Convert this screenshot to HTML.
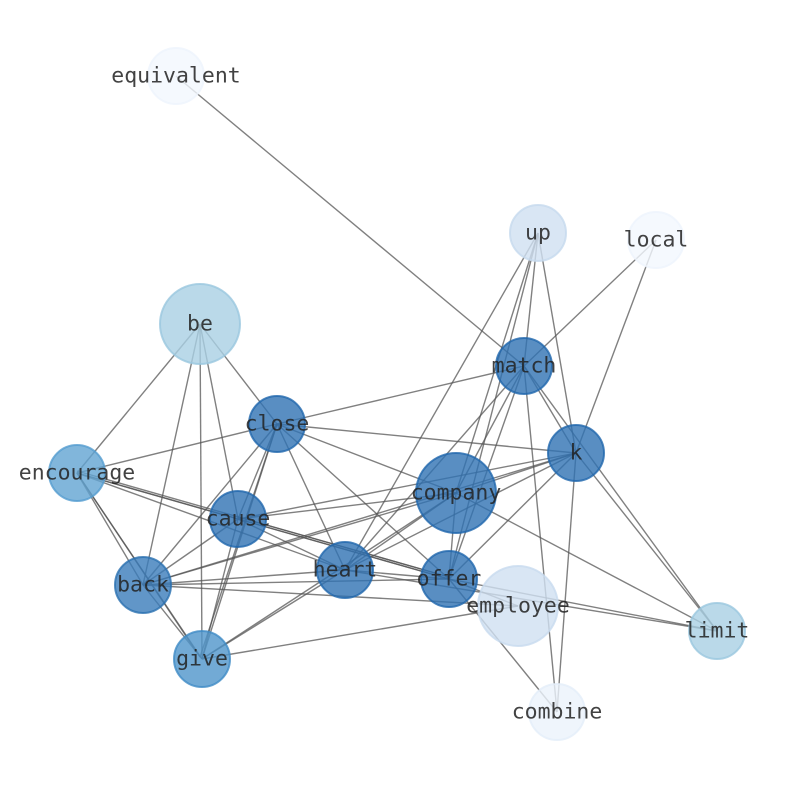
<!DOCTYPE html>
<html><head><meta charset="utf-8"><style>
html,body{margin:0;padding:0;background:#fff;width:794px;height:790px;overflow:hidden}
text{font-family:"DejaVu Sans Mono","Liberation Mono",monospace;font-size:21.5px;fill:#222;text-anchor:middle;dominant-baseline:central;opacity:0.85}
</style></head><body>
<svg width="794" height="790" viewBox="0 0 794 790" xmlns="http://www.w3.org/2000/svg">
<g stroke="#555" stroke-width="1.4" stroke-opacity="0.75" fill="none">
<line x1="176" y1="76" x2="524" y2="366"/>
<line x1="538" y1="233" x2="524" y2="366"/>
<line x1="538" y1="233" x2="576" y2="453"/>
<line x1="538" y1="233" x2="456" y2="493"/>
<line x1="538" y1="233" x2="449" y2="579"/>
<line x1="538" y1="233" x2="345" y2="570"/>
<line x1="656" y1="240" x2="524" y2="366"/>
<line x1="656" y1="240" x2="576" y2="453"/>
<line x1="524" y1="366" x2="277" y2="424"/>
<line x1="524" y1="366" x2="576" y2="453"/>
<line x1="524" y1="366" x2="456" y2="493"/>
<line x1="524" y1="366" x2="345" y2="570"/>
<line x1="524" y1="366" x2="449" y2="579"/>
<line x1="524" y1="366" x2="717" y2="631"/>
<line x1="524" y1="366" x2="557" y2="712"/>
<line x1="576" y1="453" x2="277" y2="424"/>
<line x1="576" y1="453" x2="238" y2="519"/>
<line x1="576" y1="453" x2="456" y2="493"/>
<line x1="576" y1="453" x2="345" y2="570"/>
<line x1="576" y1="453" x2="449" y2="579"/>
<line x1="576" y1="453" x2="717" y2="631"/>
<line x1="576" y1="453" x2="557" y2="712"/>
<line x1="576" y1="453" x2="143" y2="585"/>
<line x1="200" y1="324" x2="77" y2="473"/>
<line x1="200" y1="324" x2="143" y2="585"/>
<line x1="200" y1="324" x2="202" y2="659"/>
<line x1="200" y1="324" x2="238" y2="519"/>
<line x1="200" y1="324" x2="277" y2="424"/>
<line x1="277" y1="424" x2="77" y2="473"/>
<line x1="277" y1="424" x2="238" y2="519"/>
<line x1="277" y1="424" x2="143" y2="585"/>
<line x1="277" y1="424" x2="202" y2="659"/>
<line x1="277" y1="424" x2="200" y2="657"/>
<line x1="277" y1="424" x2="345" y2="570"/>
<line x1="277" y1="424" x2="449" y2="579"/>
<line x1="277" y1="424" x2="456" y2="493"/>
<line x1="77" y1="473" x2="238" y2="519"/>
<line x1="77" y1="473" x2="345" y2="570"/>
<line x1="77" y1="473" x2="449" y2="579"/>
<line x1="77" y1="471" x2="449" y2="577"/>
<line x1="77" y1="473" x2="143" y2="585"/>
<line x1="77" y1="473" x2="202" y2="659"/>
<line x1="77" y1="473" x2="200" y2="657"/>
<line x1="456" y1="493" x2="238" y2="519"/>
<line x1="456" y1="493" x2="143" y2="585"/>
<line x1="456" y1="493" x2="345" y2="570"/>
<line x1="456" y1="493" x2="449" y2="579"/>
<line x1="456" y1="493" x2="202" y2="659"/>
<line x1="456" y1="493" x2="717" y2="631"/>
<line x1="238" y1="519" x2="143" y2="585"/>
<line x1="238" y1="519" x2="202" y2="659"/>
<line x1="238" y1="519" x2="345" y2="570"/>
<line x1="238" y1="519" x2="449" y2="579"/>
<line x1="238" y1="517" x2="449" y2="577"/>
<line x1="345" y1="570" x2="143" y2="585"/>
<line x1="345" y1="570" x2="202" y2="659"/>
<line x1="345" y1="570" x2="449" y2="579"/>
<line x1="345" y1="570" x2="717" y2="631"/>
<line x1="449" y1="579" x2="143" y2="585"/>
<line x1="449" y1="579" x2="717" y2="631"/>
<line x1="449" y1="579" x2="557" y2="712"/>
<line x1="449" y1="579" x2="518" y2="606"/>
<line x1="143" y1="585" x2="202" y2="659"/>
<line x1="143" y1="585" x2="518" y2="606"/>
<line x1="202" y1="659" x2="518" y2="606"/>
</g>
<g stroke-width="2" fill-opacity="0.8" stroke-opacity="0.8">
<circle cx="176" cy="76" r="28" fill="#f3f8fe" stroke="#eef4fc"/>
<circle cx="538" cy="233" r="28" fill="#cfe0f1" stroke="#c6daee"/>
<circle cx="656" cy="240" r="28" fill="#f3f8fe" stroke="#eef4fc"/>
<circle cx="200" cy="324" r="40" fill="#a9cfe4" stroke="#9ac7df"/>
<circle cx="524" cy="366" r="28" fill="#2f72b3" stroke="#1f66ad"/>
<circle cx="277" cy="424" r="28" fill="#2f72b3" stroke="#1f66ad"/>
<circle cx="576" cy="453" r="28" fill="#2f72b3" stroke="#1f66ad"/>
<circle cx="77" cy="473" r="28" fill="#62a4d2" stroke="#549ccf"/>
<circle cx="456" cy="493" r="40" fill="#2f72b3" stroke="#1f66ad"/>
<circle cx="238" cy="519" r="28" fill="#2f72b3" stroke="#1f66ad"/>
<circle cx="345" cy="570" r="28" fill="#2f72b3" stroke="#1f66ad"/>
<circle cx="449" cy="579" r="28" fill="#2f72b3" stroke="#1f66ad"/>
<circle cx="143" cy="585" r="28" fill="#3a7cba" stroke="#2a70b0"/>
<circle cx="518" cy="606" r="40" fill="#d0e0f1" stroke="#c8dbef"/>
<circle cx="717" cy="631" r="28" fill="#a9cfe4" stroke="#9ac7df"/>
<circle cx="202" cy="659" r="28" fill="#4f95cb" stroke="#3f8bc5"/>
<circle cx="557" cy="712" r="28" fill="#ebf3fb" stroke="#e4eef9"/>
</g>
<g>
<text x="176" y="76">equivalent</text>
<text x="538" y="233">up</text>
<text x="656" y="240">local</text>
<text x="200" y="324">be</text>
<text x="524" y="366">match</text>
<text x="277" y="424">close</text>
<text x="576" y="453">k</text>
<text x="77" y="473">encourage</text>
<text x="456" y="493">company</text>
<text x="238" y="519">cause</text>
<text x="345" y="570">heart</text>
<text x="449" y="579">offer</text>
<text x="143" y="585">back</text>
<text x="518" y="606">employee</text>
<text x="717" y="631">limit</text>
<text x="202" y="659">give</text>
<text x="557" y="712">combine</text>
</g>
</svg>
</body></html>
